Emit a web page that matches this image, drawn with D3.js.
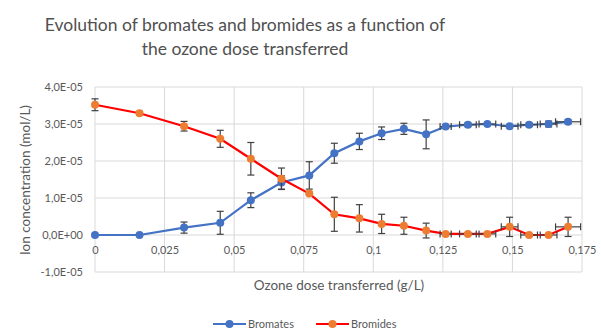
<!DOCTYPE html>
<html>
<head>
<meta charset="utf-8">
<script src="https://cdn.jsdelivr.net/npm/d3@7/dist/d3.min.js"></script>
<style>
  html, body { margin: 0; padding: 0; background: #fff; }
  svg { display: block; font-family: Lato, "Open Sans", sans-serif; }
</style>
</head>
<body>
<svg id="chart" width="601" height="330"></svg>
<script>
// Ozone dose transferred (g/L)
const dose = [0, 0.016, 0.032, 0.045, 0.056, 0.067, 0.077, 0.086, 0.095, 0.103,
              0.111, 0.119, 0.126, 0.134, 0.141, 0.149, 0.156, 0.163, 0.170];
// Horizontal uncertainty on the dose
const doseErr = [0, 0, 0, 0, 0, 0, 0, 0, 0, 0,
                 0, 0, 0.002, 0.003, 0.003, 0.003, 0.003, 0.003, 0.0045];

// Bromates (mol/L) and their uncertainty
const bromates = [0, 0, 2.0e-6, 3.3e-6, 9.4e-6, 1.42e-5, 1.61e-5, 2.21e-5, 2.53e-5, 2.75e-5,
                  2.87e-5, 2.72e-5, 2.93e-5, 2.98e-5, 3.0e-5, 2.94e-5, 2.98e-5, 3.0e-5, 3.06e-5];
const bromatesErr = [0, 0, 1.5e-6, 3.1e-6, 2.0e-6, 1.8e-6, 3.7e-6, 2.7e-6, 2.2e-6, 1.7e-6,
                     1.5e-6, 3.9e-6, 0.5e-6, 0.5e-6, 0.4e-6, 0.4e-6, 0.5e-6, 0.8e-6, 0.5e-6];

// Bromides (mol/L) and their uncertainty
const bromides = [3.52e-5, 3.29e-5, 2.94e-5, 2.6e-5, 2.06e-5, 1.52e-5, 1.12e-5, 0.56e-5, 0.45e-5, 0.3e-5,
                  0.25e-5, 0.12e-5, 0.03e-5, 0.03e-5, 0.03e-5, 0.22e-5, 0.0, 0.0, 0.22e-5];
const bromidesErr = [1.6e-6, 0.5e-6, 1.3e-6, 2.3e-6, 4.4e-6, 2.9e-6, 0.4e-6, 4.6e-6, 3.7e-6, 2.6e-6,
                     2.3e-6, 2.0e-6, 0.3e-6, 0.3e-6, 0.3e-6, 2.6e-6, 0.3e-6, 0.3e-6, 2.6e-6];

const xTicks = [0, 0.025, 0.05, 0.075, 0.1, 0.125, 0.15, 0.175];
const xTickLabels = ["0", "0,025", "0,05", "0,075", "0,1", "0,125", "0,15", "0,175"];
const yTicks = [-1e-5, 0, 1e-5, 2e-5, 3e-5, 4e-5];
const yTickLabels = ["-1,0E-05", "0,0E+00", "1,0E-05", "2,0E-05", "3,0E-05", "4,0E-05"];

const titleLines = ["Evolution of bromates and bromides as a function of", "the ozone dose transferred"];
const xTitle = "Ozone dose transferred (g/L)";
const yTitle = "Ion concentration (mol/L)";
const seriesNames = ["Bromates", "Bromides"];

const svg = d3.select("#chart");
const plot = { left: 95, right: 582, top: 87, bottom: 272 };

const x = d3.scaleLinear().domain([0, 0.175]).range([plot.left, plot.right]);
const y = d3.scaleLinear().domain([-1e-5, 4e-5]).range([plot.bottom, plot.top]);

const gridColor = "#d9d9d9";
const textColor = "#595959";

// Gridlines
const g = svg.append("g");
g.selectAll("line.h").data(yTicks).join("line")
  .attr("x1", plot.left).attr("x2", plot.right)
  .attr("y1", d => y(d)).attr("y2", d => y(d))
  .attr("stroke", gridColor).attr("stroke-width", 1);
g.selectAll("line.v").data(xTicks).join("line")
  .attr("x1", d => x(d)).attr("x2", d => x(d))
  .attr("y1", plot.top).attr("y2", plot.bottom)
  .attr("stroke", gridColor).attr("stroke-width", 1);

// Y axis labels
const yAxis = d3.axisLeft(y).tickValues(yTicks)
  .tickFormat((d, i) => yTickLabels[i]).tickSize(0).tickPadding(12);
svg.append("g").attr("transform", `translate(${plot.left},0)`).call(yAxis)
  .call(s => s.select(".domain").remove())
  .selectAll("text").attr("fill", textColor).style("font-size", "11px")
  .style("font-family", "Lato, sans-serif");

// X axis labels placed under the zero line
const xAxis = d3.axisBottom(x).tickValues(xTicks)
  .tickFormat((d, i) => xTickLabels[i]).tickSize(0).tickPadding(11);
svg.append("g").attr("transform", `translate(0,${y(0)})`).call(xAxis)
  .call(s => s.select(".domain").remove())
  .selectAll("text").attr("fill", textColor).style("font-size", "11px")
  .style("font-family", "Lato, sans-serif");

// Titles
svg.append("text").attr("x", 245).attr("text-anchor", "middle")
  .attr("fill", "#505050").style("font-size", "17.5px")
  .selectAll("tspan").data(titleLines).join("tspan")
  .attr("x", 245).attr("y", (d, i) => 31 + i * 24).text(d => d);

svg.append("text").attr("x", 339).attr("y", 290).attr("text-anchor", "middle")
  .attr("fill", textColor).style("font-size", "13.5px").text(xTitle);

svg.append("text").attr("transform", "translate(30,180) rotate(-90)")
  .attr("text-anchor", "middle").attr("fill", textColor)
  .style("font-size", "13.5px").text(yTitle);

// Series
const series = [
  { name: seriesNames[0], vals: bromates, err: bromatesErr, line: "#4472C4", marker: "#4472C4" },
  { name: seriesNames[1], vals: bromides, err: bromidesErr, line: "#FF0000", marker: "#ED7D31" }
];

const lineGen = d3.line().x(d => x(d.x)).y(d => y(d.y));
const errColor = "#404040";
const cap = 3.5;

series.forEach(s => {
  const pts = dose.map((d, i) => ({ x: d, y: s.vals[i], e: s.err[i], ex: doseErr[i] }));
  const sg = svg.append("g");
  sg.append("path").datum(pts).attr("d", lineGen)
    .attr("fill", "none").attr("stroke", s.line).attr("stroke-width", 2.2);

  // vertical error bars
  const eb = sg.selectAll("g.eb").data(pts.filter(p => p.e > 0)).join("g");
  eb.append("line").attr("x1", p => x(p.x)).attr("x2", p => x(p.x))
    .attr("y1", p => y(p.y - p.e)).attr("y2", p => y(p.y + p.e))
    .attr("stroke", errColor).attr("stroke-width", 1.2);
  eb.append("line").attr("x1", p => x(p.x) - cap).attr("x2", p => x(p.x) + cap)
    .attr("y1", p => y(p.y + p.e)).attr("y2", p => y(p.y + p.e))
    .attr("stroke", errColor).attr("stroke-width", 1.2);
  eb.append("line").attr("x1", p => x(p.x) - cap).attr("x2", p => x(p.x) + cap)
    .attr("y1", p => y(p.y - p.e)).attr("y2", p => y(p.y - p.e))
    .attr("stroke", errColor).attr("stroke-width", 1.2);

  // horizontal error bars
  const hb = sg.selectAll("g.hb").data(pts.filter(p => p.ex > 0)).join("g");
  hb.append("line").attr("x1", p => x(p.x - p.ex)).attr("x2", p => x(p.x + p.ex))
    .attr("y1", p => y(p.y)).attr("y2", p => y(p.y))
    .attr("stroke", errColor).attr("stroke-width", 1.2);
  hb.append("line").attr("x1", p => x(p.x - p.ex)).attr("x2", p => x(p.x - p.ex))
    .attr("y1", p => y(p.y) - cap).attr("y2", p => y(p.y) + cap)
    .attr("stroke", errColor).attr("stroke-width", 1.2);
  hb.append("line").attr("x1", p => x(p.x + p.ex)).attr("x2", p => x(p.x + p.ex))
    .attr("y1", p => y(p.y) - cap).attr("y2", p => y(p.y) + cap)
    .attr("stroke", errColor).attr("stroke-width", 1.2);

  sg.selectAll("circle").data(pts).join("circle")
    .attr("cx", p => x(p.x)).attr("cy", p => y(p.y)).attr("r", 4)
    .attr("fill", s.marker);
});

// Legend
const legend = svg.append("g").attr("transform", "translate(0,324)");
const legendItems = [
  { x0: 213, s: series[0] },
  { x0: 316, s: series[1] }
];
legendItems.forEach(it => {
  legend.append("line").attr("x1", it.x0).attr("x2", it.x0 + 33)
    .attr("y1", 0).attr("y2", 0).attr("stroke", it.s.line).attr("stroke-width", 2.2);
  legend.append("circle").attr("cx", it.x0 + 16.5).attr("cy", 0).attr("r", 4)
    .attr("fill", it.s.marker);
  legend.append("text").attr("x", it.x0 + 35).attr("y", 4)
    .attr("fill", textColor).style("font-size", "11px").text(it.s.name);
});
</script>
</body>
</html>
